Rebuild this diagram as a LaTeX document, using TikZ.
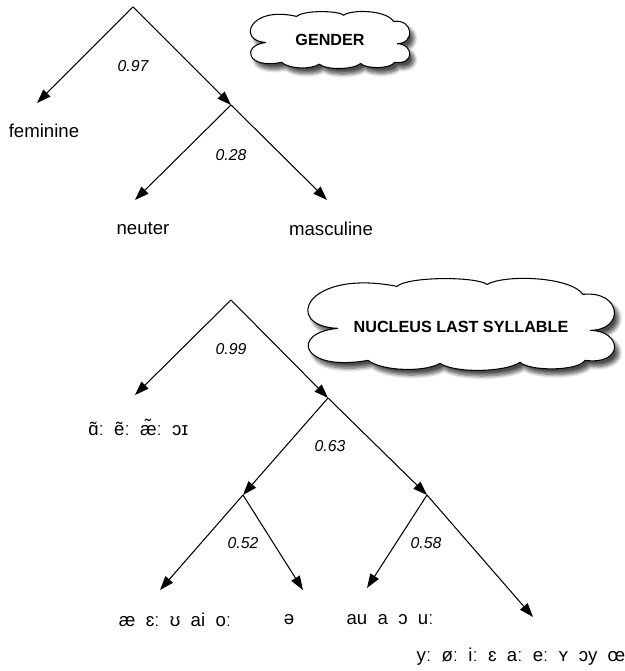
\documentclass[tikz,border=0pt]{standalone}
\usepackage{fontspec}
\setmainfont{Liberation Sans}
\usetikzlibrary{arrows.meta,backgrounds,shadows.blur}
\tikzset{
  branch/.style={draw=black,line width=0.6pt,-{Triangle[length=8pt,width=5.6pt]}},
  leaf/.style={font=\fontsize{10.6}{12}\selectfont,inner sep=0pt},
  prob/.style={font=\fontsize{9}{11}\selectfont\itshape,inner sep=0pt},
  feature/.style={inner sep=0pt,font=\fontsize{9.2}{11}\selectfont\bfseries},
  puffs/.style={draw=black,fill=white,line width=0.6pt,
    blur shadow={shadow xshift=2.5pt,shadow yshift=-3.2pt,shadow opacity=70,shadow blur steps=7}},
}
% cloud outline around (0,0), about 312 wide and 88 high
\newcommand{\cloudoutline}{(-123,4)
  .. controls (-179,2) and (-156,-56) .. (-64,-38)
  .. controls (-53,-48) and (15,-48) .. (26,-40)
  .. controls (44,-50) and (109,-48) .. (122,-30)
  .. controls (161,-34) and (164,6) .. (129,6)
  .. controls (161,6) and (164,41) .. (124,36)
  .. controls (117,47) and (69,47) .. (59,38)
  .. controls (44,48) and (-6,49) .. (-21,39)
  .. controls (-36,48) and (-79,47) .. (-93,36)
  .. controls (-161,48) and (-171,8) .. cycle}

\begin{document}
\begin{tikzpicture}[x=0.02cm,y=-0.02cm]
  \useasboundingbox (0,0) rectangle (624,671);
  % gender
  \node[feature] (gender) at (330,40) {GENDER};
  \begin{scope}[on background layer]
    \path[puffs,shift={(gender.center)},xscale=0.52,yscale=0.62] \cloudoutline;
  \end{scope}
  \coordinate (g0) at (133,7);
  \coordinate (g1) at (231,105);
  \coordinate (fem-tip) at (37,103);
  \coordinate (neu-tip) at (135,200);
  \coordinate (mas-tip) at (327,200);
  \node[leaf] (fem) at (44,131) {feminine};
  \node[leaf] (neu) at (143,229) {neuter};
  \node[leaf] (mas) at (331,229) {masculine};
  \draw[branch] (g0) -- (fem-tip);
  \draw[branch] (g0) -- (g1);
  \draw[branch] (g1) -- (neu-tip);
  \draw[branch] (g1) -- (mas-tip);
  \node[prob] (p097) at (133,66) {0.97};
  \node[prob] (p028) at (231,155) {0.28};

  % nucleus of the last syllable
  \node[feature] (nucleus) at (461,327) {NUCLEUS LAST SYLLABLE};
  \begin{scope}[on background layer]
    \path[puffs,shift={(nucleus.center)},yshift=1.5] \cloudoutline;
  \end{scope}
  \coordinate (n0) at (231,300);
  \coordinate (n1) at (328,398);
  \coordinate (n2) at (243,495);
  \coordinate (n3) at (427,495);
  \coordinate (nas-tip) at (135,395);
  \coordinate (fr-tip) at (160,590);
  \coordinate (schwa-tip) at (303,590);
  \coordinate (back-tip) at (367,588);
  \coordinate (rest-tip) at (533,617);
  \node[leaf,anchor=west] (nas) at (88,427) {ɑ̃ː\ \ ẽː\ \ æ̃ː\ \ ɔɪ};
  \node[leaf] (fr) at (175,620) {æ\ \ ɛː\ \ ʊ\ \ ai\ \ oː};
  \node[leaf] (schwa) at (289,620) {ə};
  \node[leaf] (back) at (390,620) {au\ \ a\ \ ɔ\ \ uː};
  \node[leaf] (rest) at (521,657) {yː\ \ øː\ \ iː\ \ ɛ\ \ aː\ \ eː\ \ ʏ\ \ ɔy\ \ œ};
  \draw[branch] (n0) -- (nas-tip);
  \draw[branch] (n0) -- (n1);
  \draw[branch] (n1) -- (n2);
  \draw[branch] (n1) -- (n3);
  \draw[branch] (n2) -- (fr-tip);
  \draw[branch] (n2) -- (schwa-tip);
  \draw[branch] (n3) -- (back-tip);
  \draw[branch] (n3) -- (rest-tip);
  \node[prob] (p099) at (231,349) {0.99};
  \node[prob] (p063) at (330,446) {0.63};
  \node[prob] (p052) at (243,543) {0.52};
  \node[prob] (p058) at (426,543) {0.58};
\end{tikzpicture}
\end{document}
